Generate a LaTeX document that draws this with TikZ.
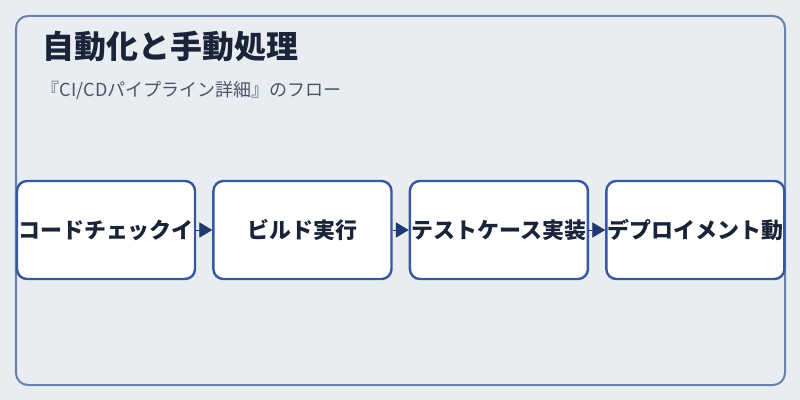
\documentclass[tikz,border=0pt]{standalone}
\usepackage{fontspec}
\setmainfont{Noto Sans CJK JP}
\usetikzlibrary{positioning,arrows.meta}
\definecolor{pagebg}{HTML}{E8EDF2}
\definecolor{framecol}{HTML}{6A82AB}
\definecolor{boxcol}{HTML}{3558A0}
\definecolor{arrowcol}{HTML}{1F3A6E}
\definecolor{titlecol}{HTML}{1A2438}
\definecolor{subcol}{HTML}{4A5568}
\tikzset{
  stage/.style={draw=boxcol, line width=0.06cm, fill=white, rounded corners=0.25cm,
    minimum width=4.45cm, minimum height=2.45cm, inner sep=0pt,
    font=\fontsize{15.6}{18}\selectfont\bfseries, text=titlecol},
  flow/.style={-{Triangle[length=0.32cm,width=0.38cm]}, arrowcol, line width=0.4pt}
}
\begin{document}
\begin{tikzpicture}[x=0.025cm, y=-0.025cm, node distance=0.4cm]
      \fill[pagebg] (0,0) rectangle (800,400);
      \draw[framecol, line width=0.05cm, rounded corners=0.3cm] (16,16) rectangle (785,385);

      \node[anchor=west, text=titlecol, font=\fontsize{22.7}{26}\selectfont\bfseries] (title) at (38,46) {自動化と手動処理};
      \node[anchor=west, text=subcol, font=\fontsize{12.8}{15}\selectfont] (sub) at (37,90) {『CI/CDパイプライン詳細』のフロー};

      \node[stage] (checkin) at (106,230) {コードチェックイ};
      \node[stage, right=of checkin] (build) {ビルド実行};
      \node[stage, right=of build] (tests) {テストケース実装};
      \node[stage, right=of tests] (deploy) {デプロイメント動};

      \draw[flow] (checkin) -- (build);
      \draw[flow] (build) -- (tests);
      \draw[flow] (tests) -- (deploy);
\end{tikzpicture}
\end{document}
